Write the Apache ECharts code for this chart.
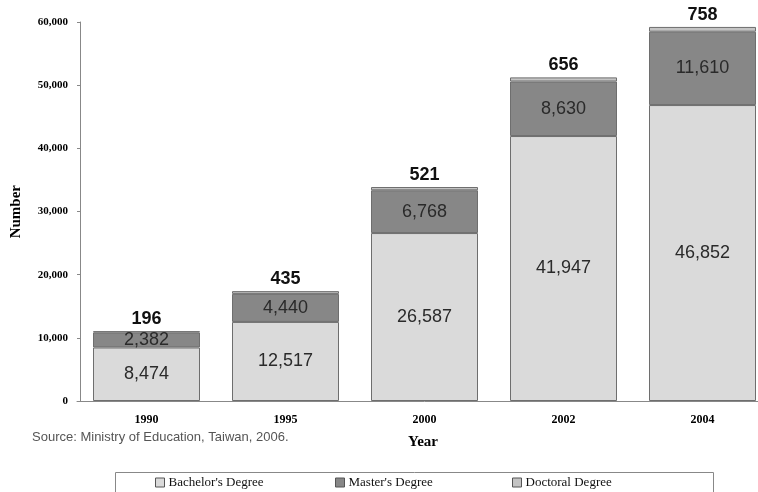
<!DOCTYPE html>
<html><head><meta charset="utf-8">
<script src="https://cdn.jsdelivr.net/npm/echarts@6/dist/echarts.min.js"></script>
<style>html,body{margin:0;padding:0;background:#fff;overflow:hidden}#c{width:800px;height:492px}</style>
</head><body><div id="c"></div>
<script>
const years = ['1990', '1995', '2000', '2002', '2004'];
const bachelor = [8474, 12517, 26587, 41947, 46852];
const master = [2382, 4440, 6768, 8630, 11610];
const doctoral = [196, 435, 521, 656, 758];
const seriesNames = ["Bachelor's Degree", "Master's Degree", "Doctoral Degree"];
const colors = ['#dadada', '#878787', '#c4c4c4'];

const fmt = v => Number(v).toLocaleString('en-US');
const serif = 'Liberation Serif';
const sans = 'Liberation Sans';
const chart = echarts.init(document.getElementById('c'), null, {renderer: 'canvas'});

const inLabel = {show: true, position: 'inside', fontFamily: sans, fontSize: 18, color: '#2a2a2a', formatter: p => fmt(p.value)};
const legendPos = [155, 335, 512];

chart.setOption({
  animation: false,
  color: colors,
  grid: {left: 77, top: 22, width: 695, height: 379},
  xAxis: {
    type: 'category', data: years,
    axisLine: {lineStyle: {color: '#888', width: 1}},
    axisTick: {show: false},
    axisLabel: {fontFamily: serif, fontWeight: 'bold', fontSize: 12, color: '#000', margin: 13}
  },
  yAxis: {
    type: 'value', min: 0, max: 60000, interval: 10000, offset: -3,
    axisLine: {show: true, lineStyle: {color: '#888', width: 1}},
    axisTick: {show: true, length: 3, lineStyle: {color: '#888'}},
    splitLine: {show: false},
    axisLabel: {fontFamily: serif, fontWeight: 'bold', fontSize: 11, color: '#000', margin: 12, formatter: v => fmt(v)}
  },
  legend: seriesNames.map((n, i) => ({
    data: [n], left: legendPos[i], top: 476, itemWidth: 9, itemHeight: 9, itemGap: 0,
    icon: 'rect', padding: 0,
    textStyle: {fontFamily: serif, fontSize: 13, color: '#111', padding: [0, 0, 0, -1]},
    itemStyle: {borderColor: '#555', borderWidth: 1}
  })),
  graphic: [
    {type: 'rect', left: 113, top: 470, shape: {width: 598, height: 30}, style: {fill: 'none', stroke: '#888', lineWidth: 1}},
    {type: 'text', left: 32, top: 431, style: {text: 'Source: Ministry of Education, Taiwan, 2006.', font: '13px "Liberation Sans"', fill: '#555'}},
    {type: 'text', left: 408, top: 435, style: {text: 'Year', font: 'bold 15px "Liberation Serif"', fill: '#000'}},
    {type: 'text', left: 9, top: 185, rotation: Math.PI / 2, style: {text: 'Number', font: 'bold 15px "Liberation Serif"', fill: '#000'}}
  ],
  series: [
    {name: seriesNames[0], type: 'bar', stack: 'deg', data: bachelor, barWidth: 107,
      itemStyle: {color: colors[0], borderColor: '#6e6e6e', borderWidth: 1}, label: inLabel},
    {name: seriesNames[1], type: 'bar', stack: 'deg', data: master, barWidth: 107,
      itemStyle: {color: colors[1], borderColor: '#6e6e6e', borderWidth: 1}, label: inLabel},
    {name: seriesNames[2], type: 'bar', stack: 'deg', data: doctoral, barWidth: 107,
      itemStyle: {color: colors[2], borderColor: '#6e6e6e', borderWidth: 1},
      label: {show: true, position: 'top', distance: 3, fontFamily: sans, fontWeight: 'bold', fontSize: 18, color: '#111', formatter: p => fmt(p.value)}}
  ]
});
</script></body></html>
